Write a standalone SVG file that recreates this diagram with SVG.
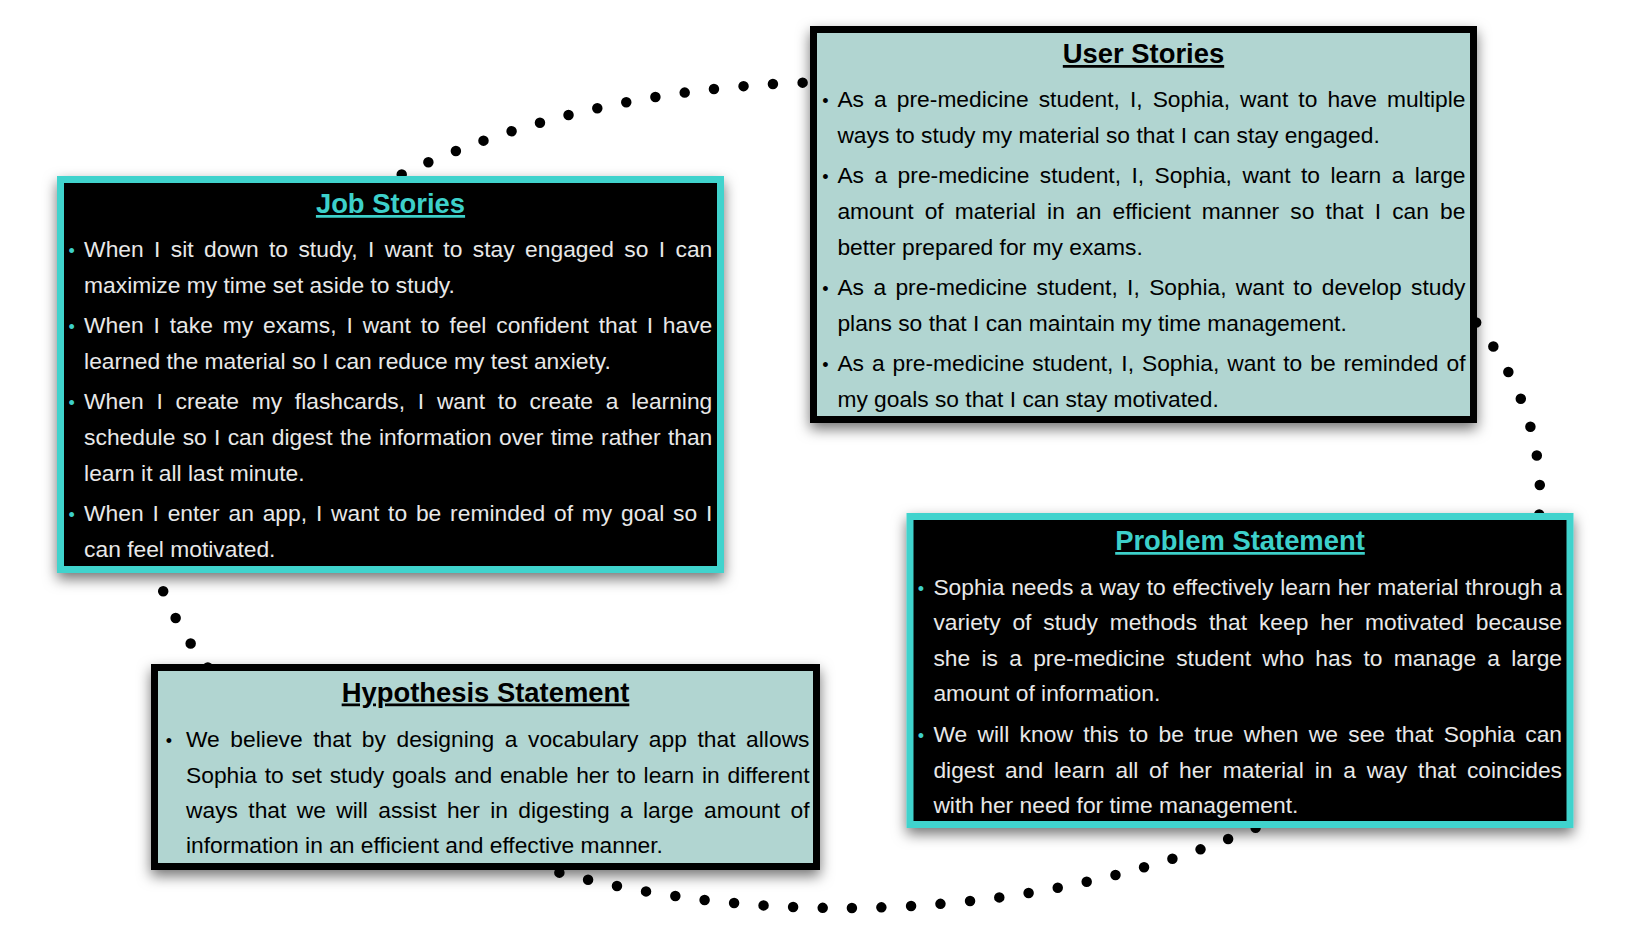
<svg xmlns="http://www.w3.org/2000/svg" width="1628" height="938" viewBox="0 0 1628 938">
<defs>
<filter id="sh" x="-10%" y="-10%" width="120%" height="125%">
<feDropShadow dx="0" dy="6" stdDeviation="7" flood-color="#000" flood-opacity="0.55"/>
</filter>
</defs>
<style>
.dots{fill:none;stroke:#000;stroke-width:10.5;stroke-linecap:round;stroke-dasharray:0 1;stroke-dashoffset:0.34}
.dark .box{fill:#000;stroke:#40d3cd;stroke-width:7;filter:url(#sh)}
.light .box{fill:#b1d5d1;stroke:#000;stroke-width:7;filter:url(#sh)}
text{font-family:"Liberation Sans",Arial,Helvetica,sans-serif}
.title{font-size:27.4px;font-weight:bold;text-anchor:middle;text-decoration:underline}
.dark .title{fill:#3dd0ca}
.light .title{fill:#000}
.body{font-size:22.8px}
.dark .body{fill:#e8e8e8}
.light .body{fill:#000}
.bul{font-size:18px;text-anchor:middle}
.dark .bul{fill:#3dd0ca}
.light .bul{fill:#000}
</style>
<rect width="1628" height="938" fill="#fff"/>
<g id="connectors">
<ellipse class="dots" cx="842" cy="495" rx="698" ry="413" pathLength="120"/>
</g>
<g id="job-stories" class="dark">
<rect class="box" x="60.5" y="179.5" width="660" height="390"/>
<text class="title" x="390.5" y="213">Job Stories</text>
<text class="bul" x="71.7" y="257">•</text>
<text class="bul" x="71.7" y="333">•</text>
<text class="bul" x="71.7" y="409">•</text>
<text class="bul" x="71.7" y="521">•</text>
<text class="body" x="84.1" y="257" word-spacing="3.96" textLength="628.2" lengthAdjust="spacing">When I sit down to study, I want to stay engaged so I can</text>
<text class="body" x="84.1" y="292.7">maximize my time set aside to study.</text>
<text class="body" x="84.1" y="333" word-spacing="3.56" textLength="628.2" lengthAdjust="spacing">When I take my exams, I want to feel confident that I have</text>
<text class="body" x="84.1" y="369">learned the material so I can reduce my test anxiety.</text>
<text class="body" x="84.1" y="409" word-spacing="6.43" textLength="628.2" lengthAdjust="spacing">When I create my flashcards, I want to create a learning</text>
<text class="body" x="84.1" y="445" word-spacing="0.98" textLength="628.2" lengthAdjust="spacing">schedule so I can digest the information over time rather than</text>
<text class="body" x="84.1" y="480.5">learn it all last minute.</text>
<text class="body" x="84.1" y="521" word-spacing="2.5" textLength="628.2" lengthAdjust="spacing">When I enter an app, I want to be reminded of my goal so I</text>
<text class="body" x="84.1" y="556.5">can feel motivated.</text>
</g>
<g id="user-stories" class="light">
<rect class="box" x="813.5" y="29.5" width="660" height="390"/>
<text class="title" x="1143.5" y="63">User Stories</text>
<text class="bul" x="825.5" y="107">•</text>
<text class="bul" x="825.5" y="183.3">•</text>
<text class="bul" x="825.5" y="295.3">•</text>
<text class="bul" x="825.5" y="371">•</text>
<text class="body" x="837.4" y="107" word-spacing="3.75" textLength="628.1" lengthAdjust="spacing">As a pre-medicine student, I, Sophia, want to have multiple</text>
<text class="body" x="837.4" y="143">ways to study my material so that I can stay engaged.</text>
<text class="body" x="837.4" y="183.3" word-spacing="4.13" textLength="628.1" lengthAdjust="spacing">As a pre-medicine student, I, Sophia, want to learn a large</text>
<text class="body" x="837.4" y="219.3" word-spacing="4.79" textLength="628.1" lengthAdjust="spacing">amount of material in an efficient manner so that I can be</text>
<text class="body" x="837.4" y="255">better prepared for my exams.</text>
<text class="body" x="837.4" y="295.3" word-spacing="3.04" textLength="628.1" lengthAdjust="spacing">As a pre-medicine student, I, Sophia, want to develop study</text>
<text class="body" x="837.4" y="330.7">plans so that I can maintain my time management.</text>
<text class="body" x="837.4" y="371" word-spacing="1.6" textLength="628.1" lengthAdjust="spacing">As a pre-medicine student, I, Sophia, want to be reminded of</text>
<text class="body" x="837.4" y="407">my goals so that I can stay motivated.</text>
</g>
<g id="problem-statement" class="dark">
<rect class="box" x="910" y="516.5" width="660" height="308"/>
<text class="title" x="1240" y="550">Problem Statement</text>
<text class="bul" x="920.8" y="594.5">•</text>
<text class="bul" x="920.8" y="741.5">•</text>
<text class="body" x="933.4" y="594.5" word-spacing="0.38" textLength="628.6" lengthAdjust="spacing">Sophia needs a way to effectively learn her material through a</text>
<text class="body" x="933.4" y="630" word-spacing="5.55" textLength="628.6" lengthAdjust="spacing">variety of study methods that keep her motivated because</text>
<text class="body" x="933.4" y="665.5" word-spacing="4.95" textLength="628.6" lengthAdjust="spacing">she is a pre-medicine student who has to manage a large</text>
<text class="body" x="933.4" y="701">amount of information.</text>
<text class="body" x="933.4" y="741.5" word-spacing="4.02" textLength="628.6" lengthAdjust="spacing">We will know this to be true when we see that Sophia can</text>
<text class="body" x="933.4" y="777.5" word-spacing="4.5" textLength="628.6" lengthAdjust="spacing">digest and learn all of her material in a way that coincides</text>
<text class="body" x="933.4" y="813">with her need for time management.</text>
</g>
<g id="hypothesis-statement" class="light">
<rect class="box" x="154.5" y="667.5" width="662" height="199"/>
<text class="title" x="485.5" y="701.5">Hypothesis Statement</text>
<text class="bul" x="169" y="746.7">•</text>
<text class="body" x="186" y="746.7" word-spacing="4.22" textLength="623.5" lengthAdjust="spacing">We believe that by designing a vocabulary app that allows</text>
<text class="body" x="186" y="782.5" word-spacing="1.38" textLength="623.5" lengthAdjust="spacing">Sophia to set study goals and enable her to learn in different</text>
<text class="body" x="186" y="818.3" word-spacing="4.04" textLength="623.5" lengthAdjust="spacing">ways that we will assist her in digesting a large amount of</text>
<text class="body" x="186" y="853.3">information in an efficient and effective manner.</text>
</g>
</svg>
